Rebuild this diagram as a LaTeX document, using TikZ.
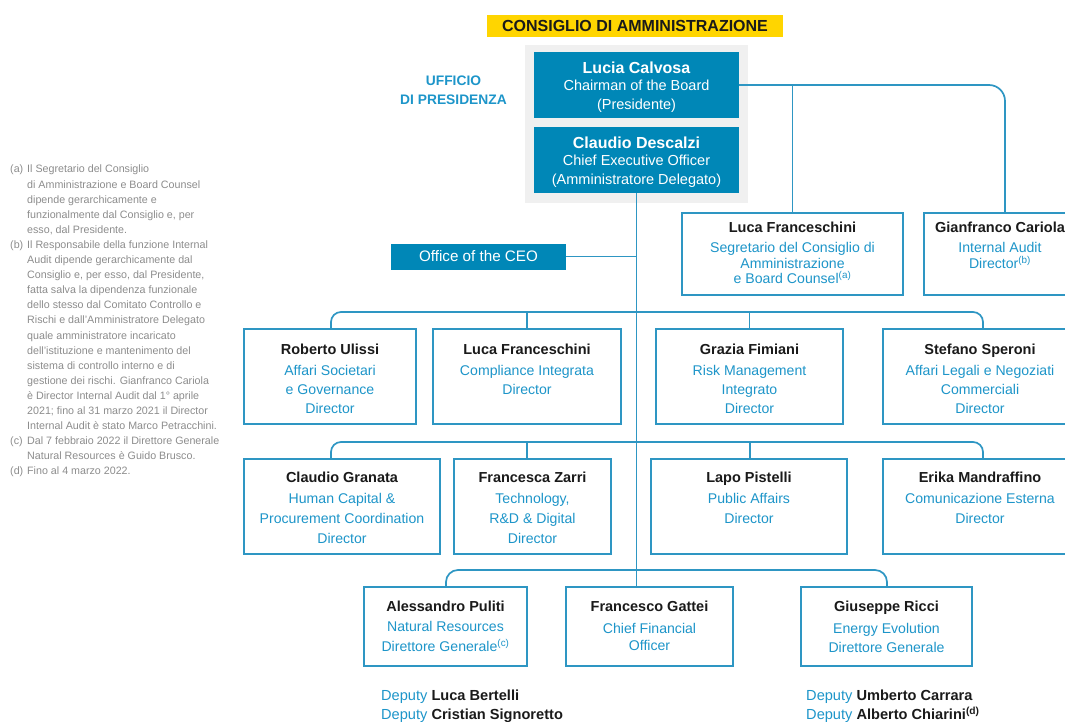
\documentclass[tikz,border=0pt]{standalone}
\usepackage{fontspec}
\setmainfont{Liberation Sans}
\definecolor{boxblue}{HTML}{0087B7}
\definecolor{lineblue}{HTML}{2E96C3}
\definecolor{txtblue}{HTML}{1D95C9}
\definecolor{ttl}{HTML}{FFD500}
\definecolor{bggray}{HTML}{F0F0F0}
\definecolor{fngray}{HTML}{8C8C8C}
\definecolor{ink}{HTML}{1A1A1A}
\newcommand\pname[1]{{\fontsize{14.5}{17}\selectfont\bfseries\color{ink}#1}}
\newcommand\bname[1]{{\fontsize{16}{18}\selectfont\bfseries #1}}
\newcommand\fnlab[1]{\makebox[17pt][l]{#1}}
\newcommand\fnind{\hspace*{17pt}}
\tikzset{
  ln/.style={draw=lineblue, line width=1.7pt},
  obox/.style={draw=lineblue, line width=1.7pt, fill=white, inner sep=0pt},
  bbox/.style={fill=boxblue, inner sep=0pt},
  otxt/.style={anchor=north, align=center, inner sep=0pt, text=txtblue},
  btxt/.style={anchor=north, align=center, inner sep=0pt, text=white, font=\fontsize{14.5}{18.5}\selectfont},
  dep/.style={anchor=base west, inner sep=0pt, font=\fontsize{14.6}{17}\selectfont}
}
\begin{document}
\begin{tikzpicture}[x=1pt,y=-1pt]
\useasboundingbox (0,0) rectangle (1065,722);
\clip (0,0) rectangle (1065,722);

% title
\node[fill=ttl, minimum width=296pt, minimum height=22pt, inner sep=0pt,
      font=\fontsize{16}{18}\selectfont\bfseries, text=ink] (title) at (635,26) {CONSIGLIO DI AMMINISTRAZIONE};

% presidency office label
\node[anchor=north, align=center, inner sep=0pt, text=txtblue,
      font=\fontsize{13.8}{19.3}\selectfont\bfseries] (uff) at (453.5,75.5) {UFFICIO\\DI PRESIDENZA};

% grey background and top boxes
\node[fill=bggray, minimum width=223pt, minimum height=158pt, inner sep=0pt] (bg) at (636.5,124) {};
\node[bbox, minimum width=205pt, minimum height=66pt] (ch) at (636.5,85) {};
\node[btxt] (cht) at ([yshift=-9.5pt]ch.north) {\bname{Lucia Calvosa}\\[-1pt]Chairman of the Board\\(Presidente)};
\node[bbox, minimum width=205pt, minimum height=66pt] (ceo) at (636.5,160) {};
\node[btxt] (ceot) at ([yshift=-9.5pt]ceo.north) {\bname{Claudio Descalzi}\\[-1pt]Chief Executive Officer\\(Amministratore Delegato)};

% office of the CEO
\node[bbox, minimum width=175pt, minimum height=26pt, text=white,
      font=\fontsize{15.2}{18}\selectfont] (off) at (478.5,256.5) {Office of the CEO};

% secretary and internal audit
\node[obox, minimum width=221pt, minimum height=82pt] (sec) at (792.5,254) {};
\node[otxt, font=\fontsize{14.1}{15.5}\selectfont] (sect) at ([yshift=-9.5pt]sec.north)
  {\pname{Luca Franceschini}\\[5pt]Segretario del Consiglio di\\Amministrazione\\e Board Counsel\textsuperscript{(a)}};
\node[obox, minimum width=152pt, minimum height=82pt] (aud) at (1000,254) {};
\node[otxt, font=\fontsize{14.1}{15.5}\selectfont] (audt) at ([yshift=-9.5pt]aud.north)
  {\pname{Gianfranco Cariola}\\[5pt]Internal Audit\\Director\textsuperscript{(b)}};

% row 1
\node[obox, minimum width=172pt, minimum height=95pt] (r1a) at (330,376.5) {};
\node[otxt, font=\fontsize{14.1}{19}\selectfont] at ([yshift=-16pt]r1a.north)
  {\pname{Roberto Ulissi}\\[2pt]Affari Societari\\e Governance\\Director};
\node[obox, minimum width=188pt, minimum height=95pt] (r1b) at (527,376.5) {};
\node[otxt, font=\fontsize{14.1}{19}\selectfont] at ([yshift=-16pt]r1b.north)
  {\pname{Luca Franceschini}\\[2pt]Compliance Integrata\\Director};
\node[obox, minimum width=187pt, minimum height=95pt] (r1c) at (749.5,376.5) {};
\node[otxt, font=\fontsize{14.1}{19}\selectfont] at ([yshift=-16pt]r1c.north)
  {\pname{Grazia Fimiani}\\[2pt]Risk Management\\Integrato\\Director};
\node[obox, minimum width=194pt, minimum height=95pt] (r1d) at (980,376.5) {};
\node[otxt, font=\fontsize{14.1}{19}\selectfont] at ([yshift=-16pt]r1d.north)
  {\pname{Stefano Speroni}\\[2pt]Affari Legali e Negoziati\\Commerciali\\Director};

% row 2
\node[obox, minimum width=196pt, minimum height=95pt] (r2a) at (342,506.5) {};
\node[otxt, font=\fontsize{14.1}{20.3}\selectfont] at ([yshift=-13.5pt]r2a.north)
  {\pname{Claudio Granata}\\[0.4pt]Human Capital \&\\Procurement Coordination\\Director};
\node[obox, minimum width=157pt, minimum height=95pt] (r2b) at (532.5,506.5) {};
\node[otxt, font=\fontsize{14.1}{20.3}\selectfont] at ([yshift=-13.5pt]r2b.north)
  {\pname{Francesca Zarri}\\[0.4pt]Technology,\\R\&D \& Digital\\Director};
\node[obox, minimum width=196pt, minimum height=95pt] (r2c) at (749,506.5) {};
\node[otxt, font=\fontsize{14.1}{20.3}\selectfont] at ([yshift=-13.5pt]r2c.north)
  {\pname{Lapo Pistelli}\\[0.4pt]Public Affairs\\Director};
\node[obox, minimum width=194pt, minimum height=95pt] (r2d) at (980,506.5) {};
\node[otxt, font=\fontsize{14.1}{20.3}\selectfont] at ([yshift=-13.5pt]r2d.north)
  {\pname{Erika Mandraffino}\\[0.4pt]Comunicazione Esterna\\Director};

% row 3
\node[obox, minimum width=163pt, minimum height=79pt] (r3a) at (445.5,626.5) {};
\node[otxt, font=\fontsize{14.1}{20}\selectfont] at ([yshift=-15pt]r3a.north)
  {\pname{Alessandro Puliti}\\Natural Resources\\Direttore Generale\textsuperscript{(c)}};
\node[obox, minimum width=167pt, minimum height=79pt] (r3b) at (649.5,626.5) {};
\node[otxt, font=\fontsize{14.1}{17}\selectfont] at ([yshift=-15pt]r3b.north)
  {\pname{Francesco Gattei}\\[4.5pt]Chief Financial\\Officer};
\node[obox, minimum width=171pt, minimum height=79pt] (r3c) at (886.5,626.5) {};
\node[otxt, font=\fontsize{14.1}{19}\selectfont] at ([yshift=-15pt]r3c.north)
  {\pname{Giuseppe Ricci}\\[3pt]Energy Evolution\\Direttore Generale};

% deputies
\node[dep] (d1) at (381,700.5) {\textcolor{txtblue}{Deputy} \textcolor{ink}{\bfseries Luca Bertelli}};
\node[dep] (d2) at (381,719.5) {\textcolor{txtblue}{Deputy} \textcolor{ink}{\bfseries Cristian Signoretto}};
\node[dep] (d3) at (806,700.5) {\textcolor{txtblue}{Deputy} \textcolor{ink}{\bfseries Umberto Carrara}};
\node[dep] (d4) at (806,719.5) {\textcolor{txtblue}{Deputy} \textcolor{ink}{\bfseries Alberto Chiarini\textsuperscript{(d)}}};

% footnotes
\node[anchor=north west, align=left, inner sep=0pt, text=fngray,
      font=\fontsize{10.7}{15.1}\selectfont] (fn) at (10,165) {%
\fnlab{(a)}Il Segretario del Consiglio\\
\fnind di Amministrazione e Board Counsel\\
\fnind dipende gerarchicamente e\\
\fnind funzionalmente dal Consiglio e, per\\
\fnind esso, dal Presidente.\\
\fnlab{(b)}Il Responsabile della funzione Internal\\
\fnind Audit dipende gerarchicamente dal\\
\fnind Consiglio e, per esso, dal Presidente,\\
\fnind fatta salva la dipendenza funzionale\\
\fnind dello stesso dal Comitato Controllo e\\
\fnind Rischi e dall’Amministratore Delegato\\
\fnind quale amministratore incaricato\\
\fnind dell’istituzione e mantenimento del\\
\fnind sistema di controllo interno e di\\
\fnind gestione dei rischi. Gianfranco Cariola\\
\fnind è Director Internal Audit dal 1° aprile\\
\fnind 2021; fino al 31 marzo 2021 il Director\\
\fnind Internal Audit è stato Marco Petracchini.\\
\fnlab{(c)}Dal 7 febbraio 2022 il Direttore Generale\\
\fnind Natural Resources è Guido Brusco.\\
\fnlab{(d)}Fino al 4 marzo 2022.};

% connectors
\coordinate (topR) at (1005,213);
\draw[ln, rounded corners=16pt] (ch.east) -| (topR);
\draw[ln] (sec.north |- ch.east) -- (sec.north);
\draw[ln] (ceo.south) -- (r3b.north -| ceo.south);
\draw[ln] (off.east) -- (off.east -| ceo.south);

\coordinate (b1L) at (331,312); \coordinate (b1R) at (983,312);
\draw[ln, rounded corners=10pt] (r1a.north -| b1L) -- (b1L) -- (b1R) -- (r1d.north -| b1R);
\draw[ln] (r1b.north |- b1L) -- (r1b.north);
\draw[ln] (r1c.north |- b1L) -- (r1c.north);

\coordinate (b2L) at (331,442); \coordinate (b2R) at (983,442);
\coordinate (d2b) at (527,442); \coordinate (d2c) at (750,442);
\draw[ln, rounded corners=10pt] (r2a.north -| b2L) -- (b2L) -- (b2R) -- (r2d.north -| b2R);
\draw[ln] (d2b) -- (r2b.north -| d2b);
\draw[ln] (d2c) -- (r2c.north -| d2c);

\coordinate (b3L) at (446,570); \coordinate (b3R) at (887,570);
\draw[ln, rounded corners=12pt] (r3a.north -| b3L) -- (b3L) -- (b3R) -- (r3c.north -| b3R);
\end{tikzpicture}
\end{document}
